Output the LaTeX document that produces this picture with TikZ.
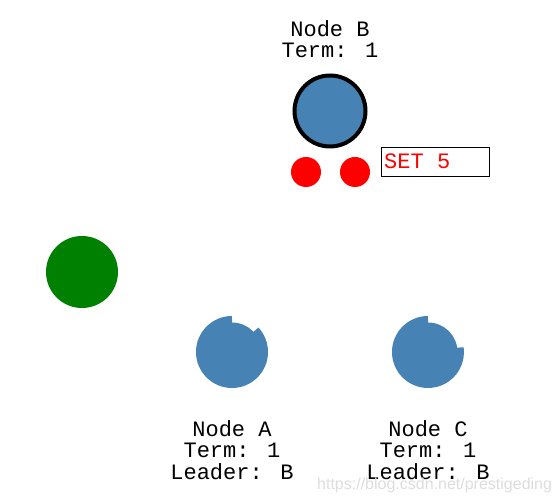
\documentclass[tikz,border=0pt]{standalone}
\usepackage{fontspec}
\newfontfamily\monof{Liberation Mono}
\newfontfamily\wmf{Liberation Sans}
\definecolor{steel}{HTML}{4682B4}
\definecolor{leafgreen}{HTML}{008000}
\definecolor{wmgray}{HTML}{DDDDDD}
\begin{document}
\begin{tikzpicture}[x=1pt,y=1pt,
  lbl/.style={font=\monof\fontsize{22}{22}\selectfont, inner sep=0pt, anchor=base, text=black},
  bubble/.style={circle, fill=steel, inner sep=0pt, minimum size=#1},
  dot/.style={circle, fill=red, inner sep=0pt, minimum size=30pt},
  ring/.style={steel, line width=7pt, line cap=butt}]
\useasboundingbox (0,0) rectangle (558,501);
% Node B
\node[bubble=71pt, draw=black, line width=4pt] (nb) at (330,390) {};
\node[lbl] (nbname) at (330,464) {Node B};
\node[lbl] (nbterm) at (330,443) {Term: 1};
\node[dot] (d1) at (306,329) {};
\node[dot] (d2) at (355,329) {};
\node[draw=black, line width=0.8pt, minimum width=108pt, minimum height=29pt, inner sep=0pt] (set) at (435,339.5) {};
\node[lbl, anchor=base west, text=red] (settxt) at (384,332) {SET 5};
% green node
\node[circle, fill=leafgreen, inner sep=0pt, minimum size=72pt] (g) at (82,229) {};
% Node A
\node[bubble=59pt] (na) at (232,149) {};
\draw[ring] (na.center) ++(90:32.5) arc[start angle=90, end angle=403, radius=32.5];
\node[lbl] (naname) at (232,64) {Node A};
\node[lbl] (naterm) at (232,43) {Term: 1};
\node[lbl] (nalead) at (232,21) {Leader: B};
% Node C
\node[bubble=59pt] (nc) at (428,149) {};
\draw[ring] (nc.center) ++(90:32.5) arc[start angle=90, end angle=368, radius=32.5];
\node[lbl] (ncname) at (428,64) {Node C};
\node[lbl] (ncterm) at (428,43) {Term: 1};
\node[lbl] (nclead) at (428,21) {Leader: B};
% watermark
\node[font=\wmf\fontsize{16}{16}\selectfont, text=wmgray, anchor=base west, inner sep=0pt] (wm) at (317,11) {https://blog.csdn.net/prestigeding};
\end{tikzpicture}
\end{document}
